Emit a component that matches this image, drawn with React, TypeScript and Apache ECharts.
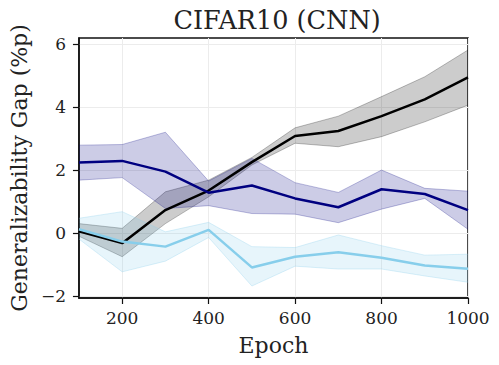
import React, { useEffect, useRef } from "react";
import * as echarts from "echarts";

const epochs = [100, 200, 300, 400, 500, 600, 700, 800, 900, 1000];

const blackMean = [0.06, -0.32, 0.73, 1.35, 2.25, 3.08, 3.24, 3.71, 4.24, 4.94];
const blackLow = [-0.1, -0.75, 0.3, 1.15, 2.16, 2.85, 2.74, 3.06, 3.53, 4.06];
const blackHigh = [0.3, 0.15, 1.31, 1.68, 2.4, 3.34, 3.71, 4.33, 4.96, 5.81];

const navyMean = [2.24, 2.29, 1.95, 1.28, 1.51, 1.1, 0.82, 1.39, 1.24, 0.73];
const navyLow = [1.68, 1.76, 0.78, 0.87, 0.62, 0.6, 0.33, 0.76, 1.1, 0.12];
const navyHigh = [2.79, 2.81, 3.2, 1.65, 2.37, 1.6, 1.29, 2.0, 1.42, 1.33];

const skyMean = [0.12, -0.27, -0.43, 0.1, -1.09, -0.75, -0.61, -0.78, -1.03, -1.13];
const skyLow = [-0.19, -1.23, -0.89, -0.14, -1.68, -1.05, -1.14, -1.14, -1.36, -1.56];
const skyHigh = [0.47, 0.68, 0.04, 0.34, -0.43, -0.46, -0.06, -0.4, -0.7, -0.67];

const xTicks = [200, 400, 600, 800, 1000];
const yTicks = [-2, 0, 2, 4, 6];

const FONT = "'DejaVu Serif', serif";

function band(name: string, low: number[], high: number[], fill: string, edge: string) {
  return {
    type: "custom",
    name,
    data: [[epochs[0], low[0]]],
    silent: true,
    clip: true,
    z: 1,
    renderItem: (params: any, api: any) => {
      const upper = epochs.map((e, i) => api.coord([e, high[i]]));
      const lower = epochs.map((e, i) => api.coord([e, low[i]]));
      const poly = upper.concat(lower.slice().reverse());
      return {
        type: "group",
        children: [
          { type: "polygon", shape: { points: poly }, style: { fill, stroke: "none" } },
          { type: "polyline", shape: { points: upper }, style: { fill: "none", stroke: edge, lineWidth: 1 } },
          { type: "polyline", shape: { points: lower }, style: { fill: "none", stroke: edge, lineWidth: 1 } },
        ],
      };
    },
  };
}

function meanLine(name: string, vals: number[], color: string, z: number) {
  return {
    type: "line",
    name,
    data: epochs.map((e, i) => [e, vals[i]]),
    symbol: "none",
    lineStyle: { color, width: 2.5 },
    z,
  };
}

export default function App() {
  const ref = useRef<HTMLDivElement>(null);
  useEffect(() => {
    document.body.style.margin = "0";
    if (!ref.current) return;
    const chart = echarts.init(ref.current, null, { renderer: "svg" });
    chart.setOption({
      animation: false,
      textStyle: { fontFamily: FONT },
      title: {
        text: "CIFAR10 (CNN)",
        left: 272,
        textAlign: "center",
        top: 2,
        textStyle: { fontFamily: FONT, fontSize: 25.5, fontWeight: "normal", color: "#222" },
      },
      grid: {
        left: 76,
        right: 31,
        top: 38,
        bottom: 67,
        show: true,
        borderColor: "#111",
        borderWidth: 1.5,
        containLabel: false,
      },
      xAxis: {
        type: "value",
        min: 100,
        max: 1000,
        name: "Epoch",
        nameLocation: "middle",
        nameGap: 36,
        nameTextStyle: { fontFamily: FONT, fontSize: 22, color: "#222" },
        axisLine: { show: true, onZero: false, lineStyle: { color: "#111", width: 1.5 } },
        axisTick: { show: true, length: 6, lineStyle: { color: "#111", width: 1.2 }, customValues: xTicks },
        axisLabel: {
          fontFamily: FONT,
          fontSize: 17,
          color: "#222",
          margin: 11,
          customValues: xTicks,
          formatter: (v: number) => String(v),
        },
        splitLine: { show: true, lineStyle: { color: "#ececec", width: 1 } },
      },
      yAxis: {
        type: "value",
        min: -2.06,
        max: 6.19,
        name: "Generalizability Gap (%p)",
        nameLocation: "middle",
        nameGap: 48,
        nameTextStyle: { fontFamily: FONT, fontSize: 22, color: "#222" },
        axisLine: { show: true, onZero: false, lineStyle: { color: "#111", width: 1.5 } },
        axisTick: { show: true, length: 6, lineStyle: { color: "#111", width: 1.2 }, customValues: yTicks },
        axisLabel: {
          fontFamily: FONT,
          fontSize: 17,
          color: "#222",
          margin: 13,
          customValues: yTicks,
          formatter: (v: number) => (v < 0 ? "\u2212" + Math.abs(v) : String(v)),
        },
        splitLine: { show: true, lineStyle: { color: "#ececec", width: 1 } },
      },
      series: [
        band("black", blackLow, blackHigh, "rgba(0,0,0,0.2)", "rgba(0,0,0,0.25)"),
        band("navy", navyLow, navyHigh, "rgba(0,0,128,0.2)", "rgba(0,0,128,0.25)"),
        band("sky", skyLow, skyHigh, "rgba(135,206,235,0.2)", "rgba(135,206,235,0.3)"),
        meanLine("black", blackMean, "#000000", 3),
        meanLine("navy", navyMean, "#000080", 4),
        meanLine("sky", skyMean, "#87CEEB", 5),
      ],
    });
    return () => chart.dispose();
  }, []);
  return <div ref={ref} style={{ width: 499, height: 365 }} />;
}
